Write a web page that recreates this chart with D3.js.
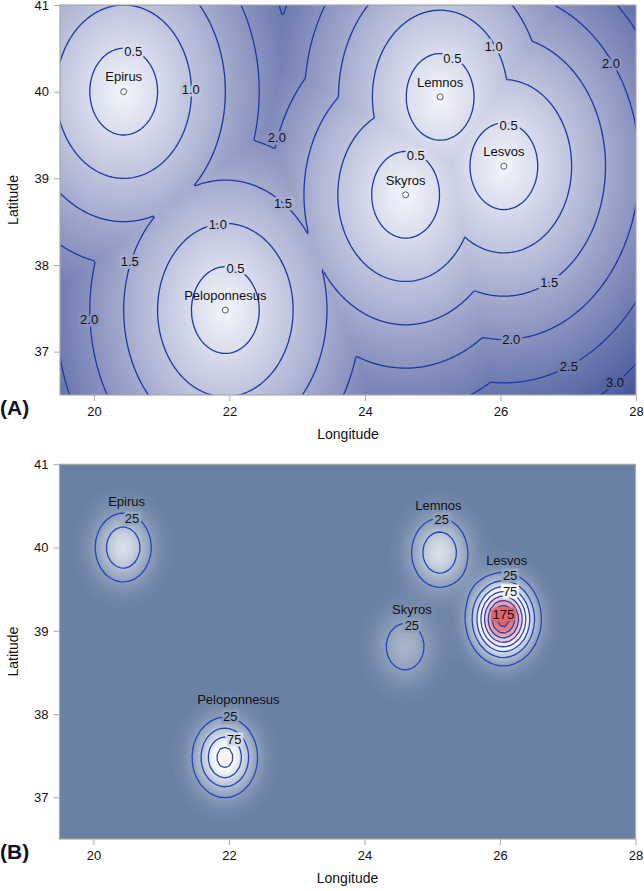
<!DOCTYPE html>
<html>
<head>
<meta charset="utf-8">
<script src="https://cdn.jsdelivr.net/npm/d3@7"></script>
<style>
body { margin: 0; background: #fff; }
text { font-family: "Liberation Sans", Arial, sans-serif; }
</style>
</head>
<body>
<svg id="chart" width="644" height="891"></svg>
<script>
// sites (longitude / latitude)
const siteNames = ['Epirus', 'Lemnos', 'Lesvos', 'Skyros', 'Peloponnesus'];
const siteLon = [20.44, 25.11, 26.05, 24.60, 21.94];
const siteLat = [40.00, 39.94, 39.14, 38.81, 37.48];

// panel B peak heights and spread (degrees)
const peakB = [74, 74, 212, 41, 110];
const spreadB = [0.28, 0.28, 0.27, 0.28, 0.28];

const levelsA = [0.5, 1.0, 1.5, 2.0, 2.5, 3.0];
const levelsB = [25, 50, 75, 100, 125, 150, 175, 200];

const xTicks = [20, 22, 24, 26, 28];
const yTicks = [37, 38, 39, 40, 41];

// contour labels, panel A
const labelAText = ['0.5', '1.0', '2.0', '1.5', '1.0', '0.5', '1.5', '2.0', '1.0', '0.5', '2.0', '0.5', '0.5', '1.5', '2.0', '2.5', '3.0'];
const labelALon = [20.58, 21.43, 22.70, 22.79, 21.83, 22.09, 20.53, 19.93, 25.90, 25.29, 27.63, 26.12, 24.75, 26.72, 26.16, 27.01, 27.69];
const labelALat = [40.46, 40.03, 39.47, 38.71, 38.47, 37.96, 38.04, 37.37, 40.52, 40.38, 40.33, 39.61, 39.26, 37.80, 37.14, 36.83, 36.64];

// contour labels, panel B
const labelBText = ['25', '25', '25', '75', '175', '25', '25', '75'];
const labelBLon = [20.57, 25.14, 26.15, 26.15, 26.05, 24.70, 22.02, 22.08];
const labelBLat = [40.35, 40.34, 39.67, 39.47, 39.20, 39.07, 37.97, 37.70];
// site name positions, panel B
const nameBLat = [40.55, 40.51, 39.85, 39.26, 38.17];
const nameBLon = [20.49, 25.09, 26.10, 24.70, 22.14];

const svg = d3.select('#chart');

const fieldA = (lon, lat) => d3.min(siteLon, (d, i) => Math.hypot(lon - d, lat - siteLat[i]));
const fieldB = (lon, lat) => d3.sum(siteLon, (d, i) => {
    const r2 = (lon - d) ** 2 + (lat - siteLat[i]) ** 2;
    return peakB[i] * Math.exp(-r2 / (2 * spreadB[i] ** 2));
});

const colorA = d3.scaleLinear().domain([0, 3.2]).range(['#f4f5fb', '#4a589c']).clamp(true);
const colorB = d3.scaleLinear().domain([0, 100, 220]).range(['#6880a4', '#ffffff', '#d9545a']).clamp(true);

const makeGrid = (f, step) => {
    const lon0 = 19.35, lat0 = 41.15;
    const nx = Math.ceil((28.15 - lon0) / step) + 1;
    const ny = Math.ceil((lat0 - 36.35) / step) + 1;
    const values = new Float64Array(nx * ny);
    for (let j = 0; j < ny; j++) {
        for (let i = 0; i < nx; i++) {
            values[j * nx + i] = f(lon0 + i * step, lat0 - j * step);
        }
    }
    return { nx, ny, values, step, lon0, lat0 };
};

const drawPanel = (opt) => {
    const xScale = d3.scaleLinear().domain([19.5, 28]).range([opt.left, opt.right]);
    const yScale = d3.scaleLinear().domain([36.5, 41]).range([opt.bottom, opt.top]);

    const g = svg.append('g');
    const clipId = 'clip' + opt.name;
    svg.append('clipPath').attr('id', clipId)
       .append('rect')
       .attr('x', opt.left).attr('y', opt.top)
       .attr('width', opt.right - opt.left).attr('height', opt.bottom - opt.top);

    const pathFor = (grid) => d3.geoPath(d3.geoTransform({
        point: function (x, y) {
            this.stream.point(xScale(grid.lon0 + (x - 0.5) * grid.step), yScale(grid.lat0 - (y - 0.5) * grid.step));
        }
    }));

    const plot = g.append('g').attr('clip-path', `url(#${clipId})`);

    // smooth colour fill from many filled bands
    const fine = makeGrid(opt.field, 0.025);
    const ext = d3.extent(fine.values);
    const bands = d3.range(0, 90).map(k => ext[0] + (ext[1] - ext[0]) * k / 90);
    const fillContours = d3.contours().size([fine.nx, fine.ny]).thresholds(bands)(fine.values);
    plot.append('rect')
        .attr('x', opt.left).attr('y', opt.top)
        .attr('width', opt.right - opt.left).attr('height', opt.bottom - opt.top)
        .attr('fill', opt.color(ext[0]));
    plot.selectAll('path.band')
        .data(fillContours)
        .enter()
        .append('path')
        .attr('class', 'band')
        .attr('d', pathFor(fine))
        .attr('fill', d => opt.color(d.value + (ext[1] - ext[0]) / 180))
        .attr('stroke', d => opt.color(d.value + (ext[1] - ext[0]) / 180))
        .attr('stroke-width', 0.6);

    // contour lines
    const lineGrid = makeGrid(opt.field, opt.lineStep);
    const lines = d3.contours().size([lineGrid.nx, lineGrid.ny]).thresholds(opt.levels)(lineGrid.values);
    plot.selectAll('path.line')
        .data(lines)
        .enter()
        .append('path')
        .attr('class', 'line')
        .attr('d', pathFor(lineGrid))
        .attr('fill', 'none')
        .attr('stroke', opt.lineColor)
        .attr('stroke-width', 1.3);

    // contour labels with a halo in the local fill colour
    plot.selectAll('text.lab')
        .data(opt.labText)
        .enter()
        .append('text')
        .attr('class', 'lab')
        .attr('x', (d, i) => xScale(opt.labLon[i]))
        .attr('y', (d, i) => yScale(opt.labLat[i]))
        .attr('dy', '0.35em')
        .attr('text-anchor', 'middle')
        .attr('font-size', 13)
        .attr('fill', '#111')
        .attr('stroke', (d, i) => opt.color(opt.field(opt.labLon[i], opt.labLat[i])))
        .attr('stroke-width', 5)
        .attr('paint-order', 'stroke')
        .text(d => d);

    // site markers + names
    if (opt.markers) {
        plot.selectAll('circle.site')
            .data(siteNames)
            .enter()
            .append('circle')
            .attr('cx', (d, i) => xScale(siteLon[i]))
            .attr('cy', (d, i) => yScale(siteLat[i]))
            .attr('r', 3)
            .attr('fill', '#fff')
            .attr('stroke', '#555')
            .attr('stroke-width', 1);
    }
    plot.selectAll('text.name')
        .data(siteNames)
        .enter()
        .append('text')
        .attr('class', 'name')
        .attr('x', (d, i) => xScale(opt.nameLon[i]))
        .attr('y', (d, i) => yScale(opt.nameLat[i]))
        .attr('dy', '0.35em')
        .attr('text-anchor', 'middle')
        .attr('font-size', 13)
        .attr('fill', '#111')
        .text(d => d);

    // frame
    g.append('rect')
     .attr('x', opt.left).attr('y', opt.top)
     .attr('width', opt.right - opt.left).attr('height', opt.bottom - opt.top)
     .attr('fill', 'none').attr('stroke', '#a8a8a8').attr('stroke-width', 1.2);

    const xAxis = g.append('g').attr('transform', `translate(0, ${opt.bottom})`)
                   .call(d3.axisBottom(xScale).tickValues(xTicks).tickFormat(d3.format('d')).tickSize(6).tickPadding(6));
    const yAxis = g.append('g').attr('transform', `translate(${opt.left}, 0)`)
                   .call(d3.axisLeft(yScale).tickValues(yTicks).tickFormat(d3.format('d')).tickSize(6).tickPadding(5));
    [xAxis, yAxis].forEach(a => {
        a.select('.domain').remove();
        a.selectAll('line').attr('stroke', '#a8a8a8');
        a.selectAll('text').attr('font-size', 13).attr('fill', '#111');
    });

    g.append('text')
     .attr('x', (opt.left + opt.right) / 2).attr('y', opt.bottom + 44)
     .attr('text-anchor', 'middle').attr('font-size', 14).attr('fill', '#111')
     .text('Longitude');
    g.append('text')
     .attr('transform', `translate(13, ${(opt.top + opt.bottom) / 2}) rotate(-90)`)
     .attr('dy', '0.35em')
     .attr('text-anchor', 'middle').attr('font-size', 14).attr('fill', '#111')
     .text('Latitude');
    g.append('text')
     .attr('x', 0).attr('y', opt.bottom + 20)
     .attr('font-family', '"Open Sans", "DejaVu Sans", sans-serif')
     .attr('font-weight', 'bold').attr('font-size', 21).attr('fill', '#121222')
     .text(`(${opt.name})`);
};

drawPanel({
    name: 'A', left: 60, right: 636, top: 5, bottom: 395,
    field: fieldA, color: colorA, levels: levelsA, lineStep: 0.025, markers: true, lineColor: '#1d3aa0',
    labText: labelAText, labLon: labelALon, labLat: labelALat,
    nameLon: siteLon, nameLat: siteLat.map(d => d + 0.17)
});

drawPanel({
    name: 'B', left: 59.5, right: 635.5, top: 464.3, bottom: 839,
    field: fieldB, color: colorB, levels: levelsB, lineStep: 0.07, markers: false, lineColor: '#2346bf',
    labText: labelBText, labLon: labelBLon, labLat: labelBLat,
    nameLon: nameBLon, nameLat: nameBLat
});
</script>
</body>
</html>
